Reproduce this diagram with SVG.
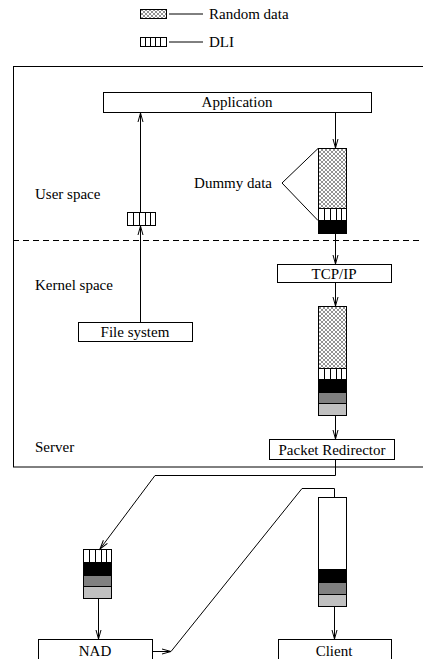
<svg xmlns="http://www.w3.org/2000/svg" width="423" height="659" viewBox="0 0 423 659">
<defs>
<pattern id="hatch" patternUnits="userSpaceOnUse" width="4" height="4">
<rect width="4" height="4" fill="#fff"/>
<path d="M0,0 L4,4 M4,0 L0,4" stroke="#777" stroke-width="0.8"/>
</pattern>
<marker id="arr" markerUnits="userSpaceOnUse" markerWidth="12" markerHeight="8" viewBox="-10 -4 12 8" refX="0" refY="0" orient="auto">
<path d="M-9,-2.5 L0,0 L-9,2.5" fill="none" stroke="#000" stroke-width="1"/>
</marker>
<style>
.box{fill:#fff;stroke:#000;stroke-width:1}
.t{font-family:"Liberation Serif","Times New Roman",serif;font-size:15px;fill:#000}
.c{text-anchor:middle}
.ln{fill:none;stroke:#000;stroke-width:1}
.hat{fill:url(#hatch);stroke:#000;stroke-width:1}
.blk{fill:#000;stroke:#000;stroke-width:1}
.dg{fill:#808080;stroke:#000;stroke-width:1}
.lg{fill:#c0c0c0;stroke:#000;stroke-width:1}
.dli{fill:#fff;stroke:#000;stroke-width:1}
</style>
</defs>
<rect width="423" height="659" fill="#fff"/>

<g id="legend">
<rect x="140.5" y="9.5" width="26" height="9" class="hat"/>
<line x1="169" y1="14" x2="203" y2="14" class="ln"/>
<text x="209" y="19" class="t">Random data</text>
<rect x="140.5" y="37.5" width="26" height="9" class="dli"/>
<path d="M145.5,37.5V46.5M150.5,37.5V46.5M155.5,37.5V46.5M160.5,37.5V46.5" class="ln"/>
<line x1="169" y1="42" x2="203" y2="42" class="ln"/>
<text x="209" y="47" class="t">DLI</text>
</g>

<g id="server">
<rect x="13.5" y="66.5" width="415" height="400.5" fill="none" stroke="#000" stroke-width="1"/>
<line x1="13" y1="240.5" x2="423" y2="240.5" stroke="#000" stroke-width="1" stroke-dasharray="6,4"/>
<text x="35" y="199" class="t">User space</text>
<text x="35" y="290" class="t">Kernel space</text>
<text x="35" y="452" class="t">Server</text>
</g>

<g id="application">
<rect x="103.5" y="92.5" width="268" height="20" class="box"/>
<text x="237" y="107" class="t c">Application</text>
</g>

<g id="filesystem">
<rect x="78.5" y="322.5" width="114" height="19" class="box"/>
<text x="135" y="337" class="t c">File system</text>
</g>

<g id="tcpip">
<rect x="277.5" y="264.5" width="114" height="18" class="box"/>
<text x="334" y="279" class="t c">TCP/IP</text>
</g>

<g id="redirector">
<rect x="269.5" y="439.5" width="125" height="20" class="box"/>
<text x="332" y="455" class="t c">Packet Redirector</text>
</g>

<g id="nad">
<rect x="38.5" y="639.5" width="114" height="22" class="box"/>
<text x="95" y="656" class="t c">NAD</text>
</g>

<g id="client">
<rect x="278.5" y="639.5" width="113" height="22" class="box"/>
<text x="334" y="656" class="t c">Client</text>
</g>

<g id="packet-file">
<rect x="127.5" y="212.5" width="28" height="13" class="dli"/>
<path d="M133.5,212.5V225.5M139.5,212.5V225.5M145.5,212.5V225.5M150.5,212.5V225.5" class="ln"/>
</g>

<g id="packet-dummy">
<rect x="318.5" y="148.5" width="28" height="60" class="hat"/>
<rect x="318.5" y="208.5" width="28" height="12" class="dli"/>
<path d="M324.5,208.5V220.5M330.5,208.5V220.5M336.5,208.5V220.5M341.5,208.5V220.5" class="ln"/>
<rect x="318.5" y="220.5" width="28" height="13" class="blk"/>
<text x="272" y="188" class="t" text-anchor="end">Dummy data</text>
<path d="M318,148.5 L282,183 L318,220.5" class="ln"/>
</g>

<g id="packet-tcp">
<rect x="318.5" y="306.5" width="28" height="62" class="hat"/>
<rect x="318.5" y="368.5" width="28" height="11" class="dli"/>
<path d="M324.5,368.5V379.5M330.5,368.5V379.5M336.5,368.5V379.5M341.5,368.5V379.5" class="ln"/>
<rect x="318.5" y="379.5" width="28" height="13" class="blk"/>
<rect x="318.5" y="392.5" width="28" height="11" class="dg"/>
<rect x="318.5" y="403.5" width="28" height="12" class="lg"/>
</g>

<g id="packet-nad">
<rect x="83.5" y="549.5" width="28" height="13" class="dli"/>
<path d="M89.5,549.5V562.5M95.5,549.5V562.5M101.5,549.5V562.5M106.5,549.5V562.5" class="ln"/>
<rect x="83.5" y="562.5" width="28" height="13" class="blk"/>
<rect x="83.5" y="575.5" width="28" height="11" class="dg"/>
<rect x="83.5" y="586.5" width="28" height="12" class="lg"/>
</g>

<g id="packet-client">
<rect x="318.5" y="497.5" width="28" height="72" class="box"/>
<rect x="318.5" y="569.5" width="28" height="13" class="blk"/>
<rect x="318.5" y="582.5" width="28" height="12" class="dg"/>
<rect x="318.5" y="594.5" width="28" height="12" class="lg"/>
</g>

<g id="connectors">
<line x1="140.5" y1="322" x2="140.5" y2="226" class="ln" marker-end="url(#arr)"/>
<line x1="140.5" y1="212" x2="140.5" y2="113" class="ln" marker-end="url(#arr)"/>
<line x1="335.5" y1="113" x2="335.5" y2="148" class="ln" marker-end="url(#arr)"/>
<line x1="335.5" y1="234" x2="335.5" y2="264" class="ln" marker-end="url(#arr)"/>
<line x1="335.5" y1="283" x2="335.5" y2="306" class="ln" marker-end="url(#arr)"/>
<line x1="335.5" y1="416" x2="335.5" y2="439" class="ln" marker-end="url(#arr)"/>
<polyline points="335.5,460 335.5,475.5 155,475.5 100,549" class="ln" marker-end="url(#arr)"/>
<line x1="98.5" y1="599" x2="98.5" y2="639" class="ln" marker-end="url(#arr)"/>
<line x1="153" y1="651.5" x2="171" y2="651.5" class="ln" marker-end="url(#arr)"/>
<polyline points="171,651.5 302,488.5 334.5,488.5 334.5,497" class="ln"/>
<line x1="334.5" y1="607" x2="334.5" y2="639" class="ln" marker-end="url(#arr)"/>
</g>
</svg>
